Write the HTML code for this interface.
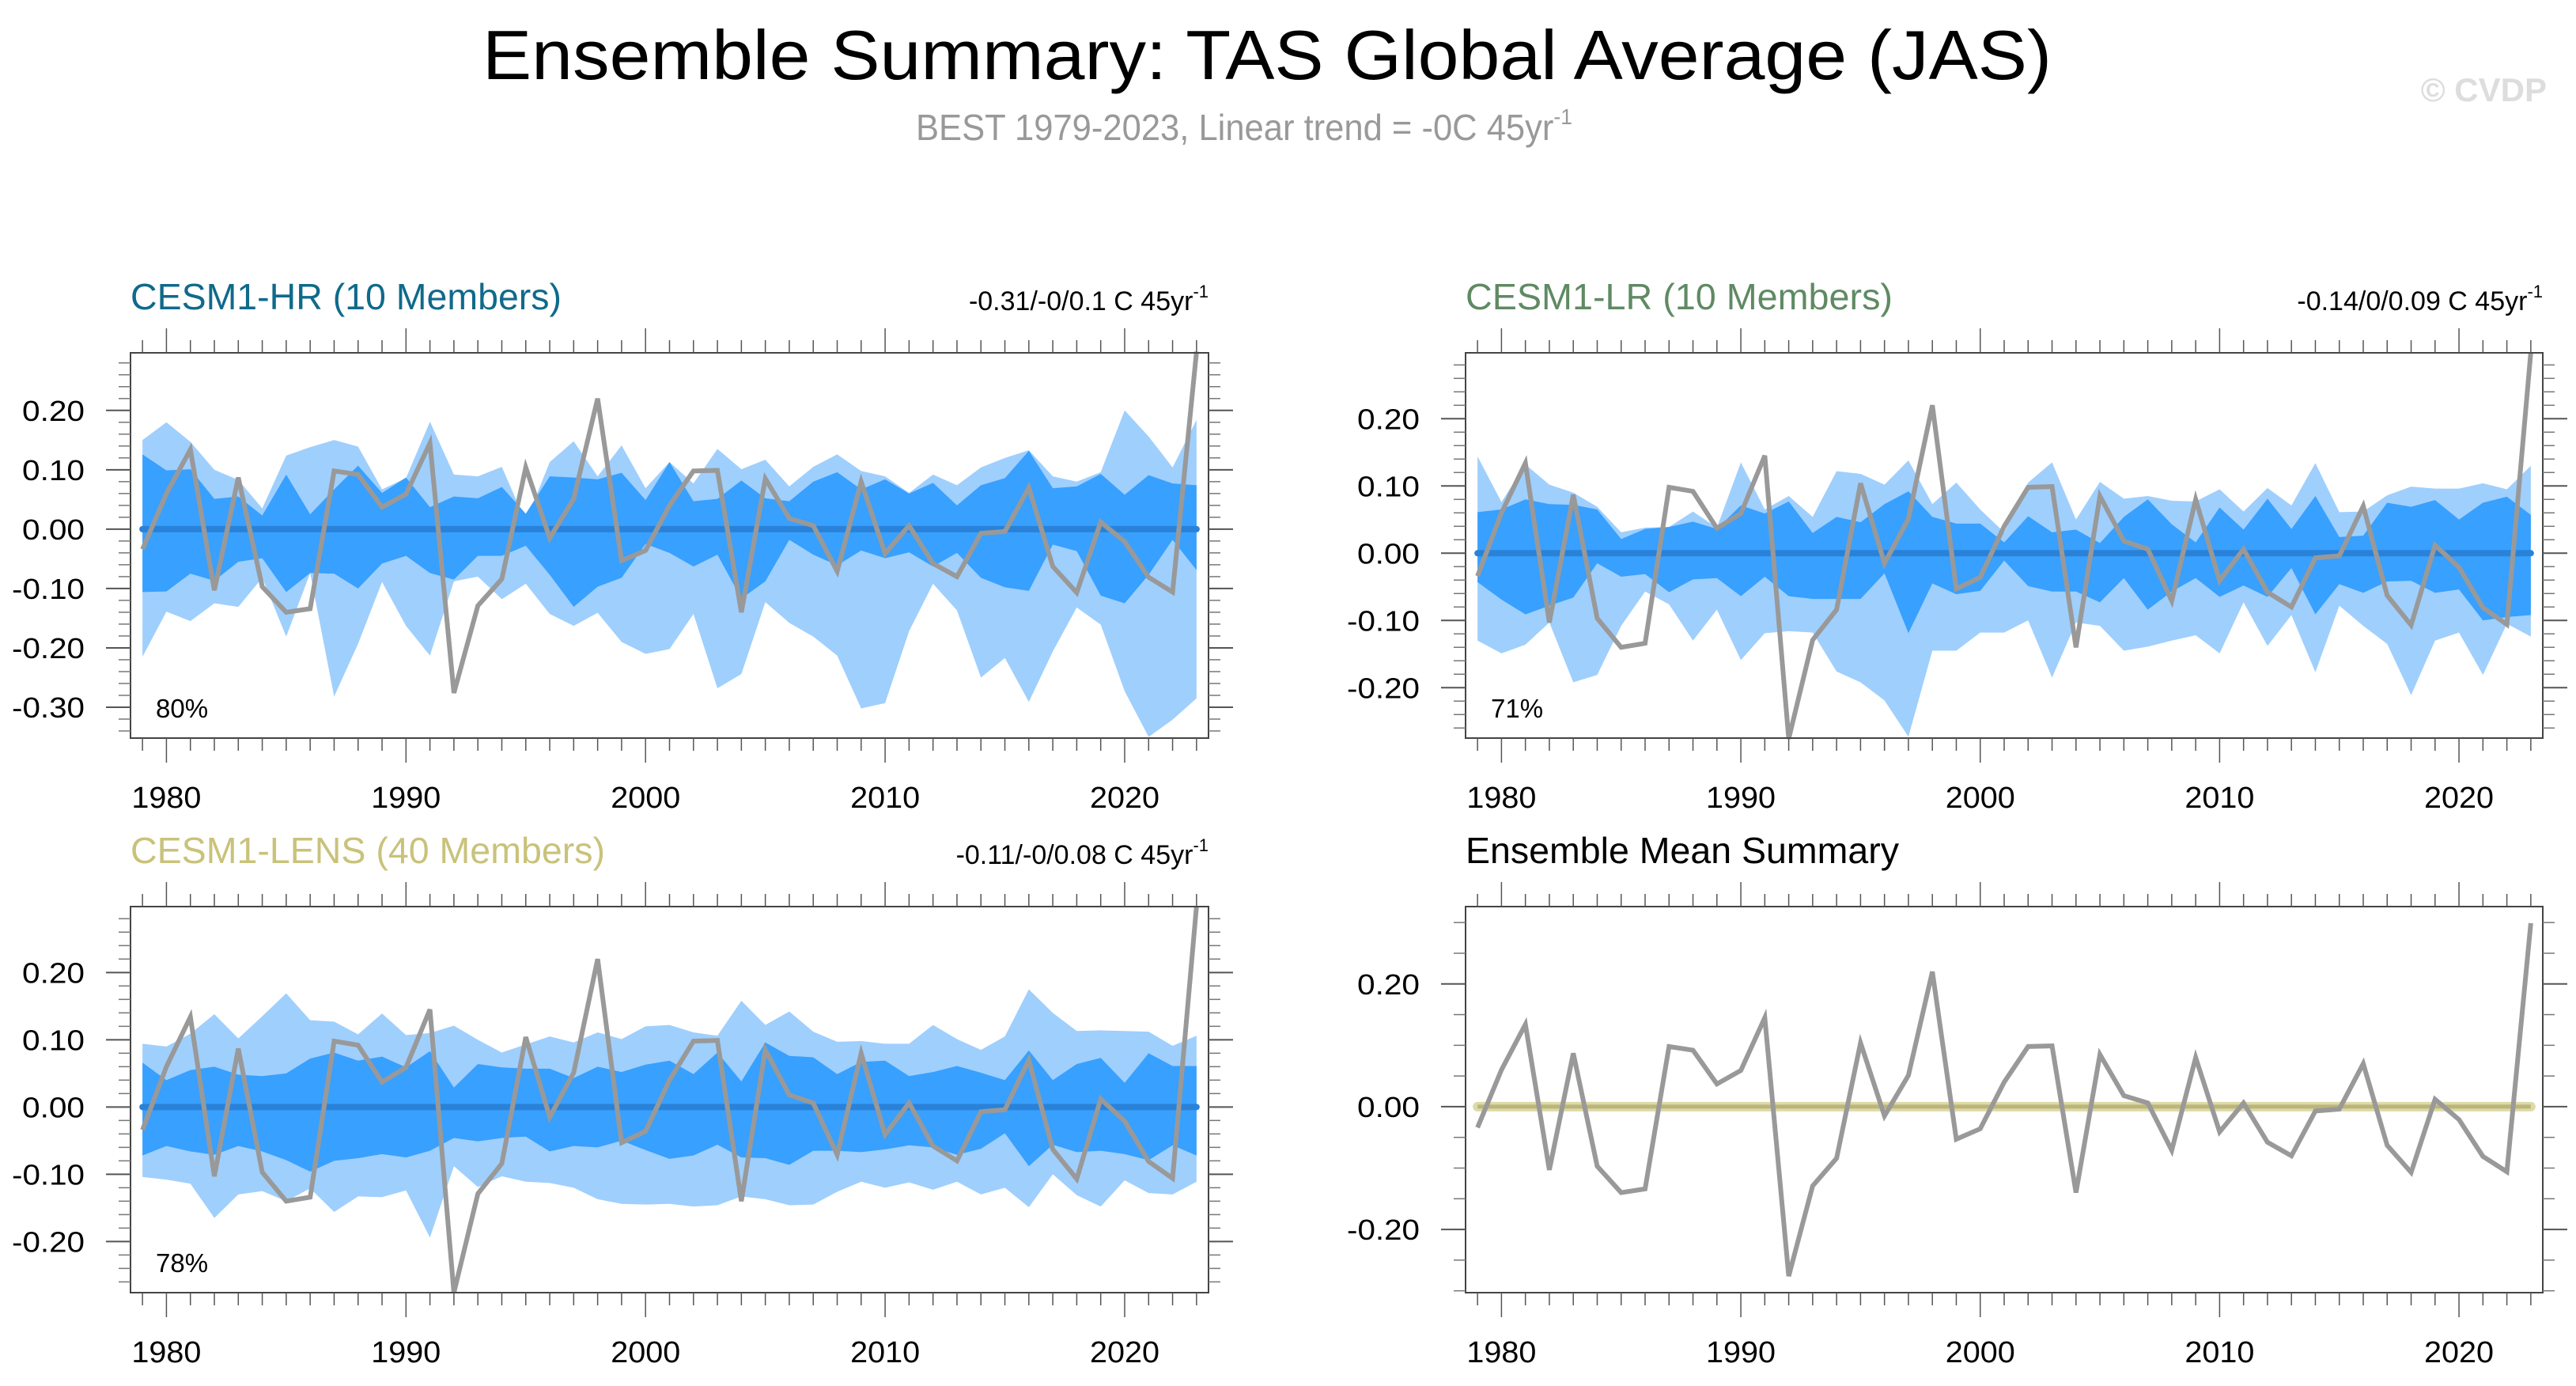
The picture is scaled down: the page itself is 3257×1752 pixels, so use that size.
<!DOCTYPE html>
<html><head><meta charset="utf-8"><title>Ensemble Summary: TAS Global Average (JAS)</title>
<style>
html,body{margin:0;padding:0;background:#fff;}
svg{display:block;font-family:"Liberation Sans Narrow","Liberation Sans",sans-serif;}
</style></head>
<body>
<svg id="chart" xmlns="http://www.w3.org/2000/svg" width="3257" height="1752" viewBox="0 0 3257 1752">
<rect x="0" y="0" width="3257" height="1752" fill="#fff"/>
<text x="1602" y="100" font-size="88" text-anchor="middle" textLength="1984" lengthAdjust="spacingAndGlyphs" fill="#000">Ensemble Summary: TAS Global Average (JAS)</text>
<text x="1158" y="177" font-size="46" fill="#999" textLength="830" lengthAdjust="spacingAndGlyphs">BEST 1979-2023, Linear trend = -0C 45yr<tspan font-size="28" dy="-20">-1</tspan></text>
<text x="3220" y="128" font-size="42" font-weight="bold" fill="#ddd" text-anchor="end">© CVDP</text>
<g id="panels"></g>
</svg>
<script>
const years = [];
for (let y = 1979; y <= 2023; y++) years.push(y);
const obsBEST = [-0.034,0.06,0.134,-0.103,0.087,-0.097,-0.14,-0.134,0.098,0.092,0.037,0.059,0.145,-0.276,-0.129,-0.084,0.104,-0.015,0.051,0.22,-0.053,-0.036,0.04,0.098,0.099,-0.14,0.085,0.018,0.006,-0.071,0.08,-0.041,0.006,-0.058,-0.08,-0.007,-0.004,0.07,-0.063,-0.107,0.012,-0.021,-0.081,-0.106,0.299];

const hrOuterHi = [0.15,0.18,0.147,0.10,0.083,0.035,0.124,0.138,0.15,0.139,0.067,0.086,0.181,0.092,0.089,0.105,0.012,0.113,0.148,0.089,0.141,0.069,0.113,0.077,0.135,0.101,0.117,0.072,0.105,0.126,0.098,0.089,0.061,0.092,0.074,0.104,0.12,0.133,0.089,0.08,0.096,0.2,0.156,0.104,0.184];
const hrInnerHi = [0.126,0.099,0.101,0.051,0.055,0.023,0.092,0.025,0.067,0.107,0.061,0.087,0.037,0.055,0.052,0.071,0.026,0.089,0.087,0.084,0.095,0.049,0.113,0.047,0.051,0.082,0.052,0.047,0.08,0.096,0.067,0.084,0.06,0.078,0.04,0.074,0.086,0.132,0.069,0.072,0.093,0.058,0.091,0.077,0.074];
const hrInnerLo = [-0.106,-0.105,-0.075,-0.087,-0.055,-0.049,-0.106,-0.074,-0.075,-0.1,-0.058,-0.045,-0.074,-0.085,-0.045,-0.045,-0.028,-0.077,-0.131,-0.097,-0.082,-0.025,-0.04,-0.063,-0.043,-0.117,-0.088,-0.018,-0.043,-0.061,-0.036,-0.049,-0.039,-0.063,-0.04,-0.082,-0.098,-0.104,-0.026,-0.037,-0.112,-0.125,-0.077,-0.018,-0.069];
const hrOuterLo = [-0.215,-0.139,-0.155,-0.125,-0.131,-0.082,-0.181,-0.074,-0.282,-0.193,-0.089,-0.163,-0.213,-0.088,-0.08,-0.118,-0.092,-0.143,-0.163,-0.141,-0.19,-0.21,-0.202,-0.143,-0.268,-0.244,-0.123,-0.158,-0.181,-0.213,-0.302,-0.293,-0.172,-0.092,-0.137,-0.25,-0.217,-0.291,-0.206,-0.132,-0.161,-0.273,-0.35,-0.321,-0.285];

const lrOuterHi = [0.144,0.076,0.132,0.102,0.09,0.069,0.031,0.038,0.039,0.062,0.038,0.135,0.065,0.085,0.054,0.122,0.118,0.102,0.138,0.073,0.105,0.065,0.031,0.105,0.135,0.05,0.106,0.081,0.085,0.078,0.077,0.095,0.062,0.097,0.071,0.134,0.061,0.062,0.086,0.099,0.096,0.096,0.104,0.095,0.13];
const lrInnerHi = [0.061,0.065,0.08,0.073,0.072,0.065,0.021,0.036,0.039,0.047,0.036,0.071,0.059,0.077,0.03,0.054,0.046,0.073,0.092,0.054,0.044,0.044,0.016,0.055,0.031,0.035,0.015,0.054,0.08,0.043,0.016,0.068,0.035,0.081,0.036,0.085,0.024,0.026,0.075,0.069,0.079,0.05,0.075,0.084,0.057];
const lrInnerLo = [-0.043,-0.069,-0.091,-0.078,-0.066,-0.015,-0.035,-0.031,-0.058,-0.039,-0.037,-0.064,-0.035,-0.064,-0.068,-0.068,-0.068,-0.03,-0.119,-0.045,-0.061,-0.056,-0.011,-0.049,-0.057,-0.057,-0.073,-0.037,-0.084,-0.057,-0.037,-0.065,-0.048,-0.065,-0.022,-0.091,-0.046,-0.059,-0.042,-0.041,-0.059,-0.054,-0.1,-0.095,-0.092];
const lrOuterLo = [-0.13,-0.149,-0.136,-0.103,-0.192,-0.181,-0.108,-0.057,-0.076,-0.13,-0.084,-0.159,-0.119,-0.116,-0.118,-0.176,-0.192,-0.219,-0.273,-0.145,-0.145,-0.118,-0.118,-0.1,-0.185,-0.103,-0.108,-0.145,-0.139,-0.13,-0.122,-0.149,-0.073,-0.138,-0.092,-0.177,-0.078,-0.108,-0.135,-0.211,-0.13,-0.118,-0.181,-0.105,-0.124];

const lensOuterHi = [0.094,0.09,0.109,0.138,0.102,0.135,0.169,0.129,0.127,0.108,0.139,0.107,0.11,0.121,0.1,0.081,0.093,0.105,0.096,0.111,0.101,0.12,0.122,0.111,0.106,0.158,0.122,0.142,0.112,0.097,0.098,0.094,0.094,0.122,0.101,0.085,0.105,0.175,0.14,0.113,0.114,0.113,0.112,0.091,0.106];
const lensInnerHi = [0.066,0.04,0.055,0.06,0.048,0.046,0.05,0.072,0.081,0.069,0.075,0.059,0.083,0.029,0.064,0.059,0.057,0.057,0.043,0.06,0.052,0.063,0.069,0.049,0.081,0.038,0.096,0.076,0.074,0.049,0.067,0.069,0.046,0.052,0.061,0.051,0.04,0.084,0.04,0.064,0.073,0.036,0.08,0.061,0.061];
const lensInnerLo = [-0.072,-0.058,-0.066,-0.071,-0.058,-0.066,-0.079,-0.096,-0.08,-0.076,-0.07,-0.075,-0.065,-0.046,-0.051,-0.046,-0.044,-0.066,-0.058,-0.06,-0.05,-0.064,-0.077,-0.072,-0.056,-0.075,-0.076,-0.086,-0.065,-0.065,-0.067,-0.063,-0.057,-0.06,-0.071,-0.062,-0.039,-0.088,-0.056,-0.067,-0.065,-0.07,-0.079,-0.057,-0.072];
const lensOuterLo = [-0.104,-0.108,-0.114,-0.165,-0.13,-0.125,-0.14,-0.121,-0.156,-0.133,-0.134,-0.124,-0.194,-0.088,-0.119,-0.103,-0.111,-0.113,-0.12,-0.137,-0.144,-0.145,-0.144,-0.148,-0.146,-0.133,-0.137,-0.146,-0.145,-0.126,-0.111,-0.12,-0.112,-0.123,-0.111,-0.13,-0.12,-0.149,-0.1,-0.131,-0.148,-0.109,-0.128,-0.13,-0.111];

const ensMeanValue = [0, 0, 0];
const xTickLabels = ["1980","1990","2000","2010","2020"];
const yTicksHR = ["0.20","0.10","0.00","-0.10","-0.20","-0.30"];
const yTicksLR = ["0.20","0.10","0.00","-0.10","-0.20"];
const yTicksLENS = ["0.20","0.10","0.00","-0.10","-0.20"];
const yTicksEM = ["0.20","0.00","-0.20"];

const NS = "http://www.w3.org/2000/svg";
const root = document.getElementById("panels");
function mk(tag, attrs, parent) {
  const e = document.createElementNS(NS, tag);
  for (const k in attrs) e.setAttribute(k, attrs[k]);
  (parent || root).appendChild(e);
  return e;
}

const panels = [
  {key:"hr", x0:165, x1:1528, y0:446, y1:933, ymin:-0.352, ymax:0.297, minorStep:0.02, yt:yTicksHR,
   title:"CESM1-HR (10 Members)", titleColor:"#0f6a8b", titleLen:545, trend:"-0.31/-0/0.1 C 45yr", pct:"80%",
   bands:[hrOuterHi,hrInnerHi,hrInnerLo,hrOuterLo]},
  {key:"lr", x0:1853, x1:3215, y0:446, y1:933, ymin:-0.275, ymax:0.298, minorStep:0.02, yt:yTicksLR,
   title:"CESM1-LR (10 Members)", titleColor:"#5f8a63", titleLen:540, trend:"-0.14/0/0.09 C 45yr", pct:"71%",
   bands:[lrOuterHi,lrInnerHi,lrInnerLo,lrOuterLo]},
  {key:"lens", x0:165, x1:1528, y0:1146, y1:1634, ymin:-0.276, ymax:0.298, minorStep:0.02, yt:yTicksLENS,
   title:"CESM1-LENS (40 Members)", titleColor:"#c9c27a", titleLen:600, trend:"-0.11/-0/0.08 C 45yr", pct:"78%",
   bands:[lensOuterHi,lensInnerHi,lensInnerLo,lensOuterLo]},
  {key:"em", x0:1853, x1:3215, y0:1146, y1:1634, ymin:-0.303, ymax:0.326, minorStep:0.05, yt:yTicksEM,
   title:"Ensemble Mean Summary", titleColor:"#000", titleLen:548, trend:null, pct:null, bands:null}
];

panels.forEach(p => {
  const g = mk("g", {});
  
  
  const xs = v => p.x0 + (v - 1978.5) / 45 * (p.x1 - p.x0);
  const ys = v => p.y0 + (p.ymax - v) / (p.ymax - p.ymin) * (p.y1 - p.y0);

  if (p.bands) {
    const [oh, ih, il, ol] = p.bands;
    const poly = (hi, lo, fill, name) => {
      let pts = years.map((y,i)=>xs(y)+","+ys(hi[i]));
      pts = pts.concat(years.map((y,i)=>xs(y)+","+ys(lo[i])).reverse());
      const e = mk("polygon", {points:pts.join(" "), fill:fill}, g);
      
      
    };
    poly(oh, ol, "#9fcffd", p.key + "-outer-range-band");
    poly(ih, il, "#38a0fe", p.key + "-inner-range-band");
    const z = mk("line", {x1:xs(1979), x2:xs(2023), y1:ys(0), y2:ys(0), stroke:"#2a82d8", "stroke-width":8, "stroke-linecap":"round"}, g);
    
    
  } else {
    const a = mk("line", {x1:xs(1979), x2:xs(2023), y1:ys(ensMeanValue[0]), y2:ys(ensMeanValue[0]), stroke:"#dcdaa8", "stroke-width":12, "stroke-linecap":"round"}, g);
    
    
    const b = mk("line", {x1:xs(1979), x2:xs(2023), y1:ys(ensMeanValue[1]), y2:ys(ensMeanValue[1]), stroke:"#bdb47a", "stroke-width":5}, g);
    
    
  }
  const obs = mk("polyline", {points: years.map((y,i)=>xs(y)+","+ys(obsBEST[i])).join(" "), fill:"none", stroke:"#999", "stroke-width":6, "stroke-linejoin":"miter"}, g);
  
  

  // frame
  const fr = mk("rect", {x:p.x0, y:p.y0, width:p.x1-p.x0, height:p.y1-p.y0, fill:"none", stroke:"#444", "stroke-width":2}, g);
  
  

  // x ticks
  years.forEach(y => {
    const major = y % 10 === 0;
    const L = major ? 31 : 16;
    const t1 = mk("line", {x1:xs(y), x2:xs(y), y1:p.y0, y2:p.y0-L, stroke:"#555", "stroke-width":1.5}, g);
    
    
    const t2 = mk("line", {x1:xs(y), x2:xs(y), y1:p.y1, y2:p.y1+L, stroke:"#555", "stroke-width":1.5}, g);
    
    
  });
  xTickLabels.forEach(s => {
    const t = mk("text", {x:xs(+s), y:p.y1+88, "font-size":38, "text-anchor":"middle", textLength:88, lengthAdjust:"spacingAndGlyphs", fill:"#000"}, g);
    t.textContent = s;
    
    
  });
  // y minor ticks
  const start = Math.ceil(p.ymin / p.minorStep - 1e-6);
  const end = Math.floor(p.ymax / p.minorStep + 1e-6);
  for (let k = start; k <= end; k++) {
    const v = k * p.minorStep;
    const a = mk("line", {x1:p.x0, x2:p.x0-15, y1:ys(v), y2:ys(v), stroke:"#777", "stroke-width":1.5}, g);
    
    
    const b = mk("line", {x1:p.x1, x2:p.x1+15, y1:ys(v), y2:ys(v), stroke:"#777", "stroke-width":1.5}, g);
    
    
  }
  p.yt.forEach(s => {
    const v = parseFloat(s);
    const a = mk("line", {x1:p.x0, x2:p.x0-31, y1:ys(v), y2:ys(v), stroke:"#555", "stroke-width":2}, g);
    
    
    const b = mk("line", {x1:p.x1, x2:p.x1+31, y1:ys(v), y2:ys(v), stroke:"#555", "stroke-width":2}, g);
    
    
    const t = mk("text", {x:p.x0-58, y:ys(v)+13, "font-size":36, "text-anchor":"end", textLength:(s[0]==="-"?92:79), lengthAdjust:"spacingAndGlyphs", fill:"#000"}, g);
    t.textContent = s;
    
    
  });

  // titles
  const tt = mk("text", {x:p.x0, y:p.y0-55, "font-size":46, fill:p.titleColor, textLength:p.titleLen, lengthAdjust:"spacingAndGlyphs"}, g);
  tt.textContent = p.title;
  
  
  if (p.trend) {
    const tr = mk("text", {x:p.x1, y:p.y0-54, "font-size":34, "text-anchor":"end", fill:"#000"}, g);
    tr.textContent = p.trend;
    const sup = mk("tspan", {"font-size":22, dy:-16}, tr);
    sup.textContent = "-1";
    
    
  }
  if (p.pct) {
    const pc = mk("text", {x:p.x0+32, y:p.y1-26, "font-size":33, fill:"#000"}, g);
    pc.textContent = p.pct;
    
    
  }
});
</script>
</body></html>
